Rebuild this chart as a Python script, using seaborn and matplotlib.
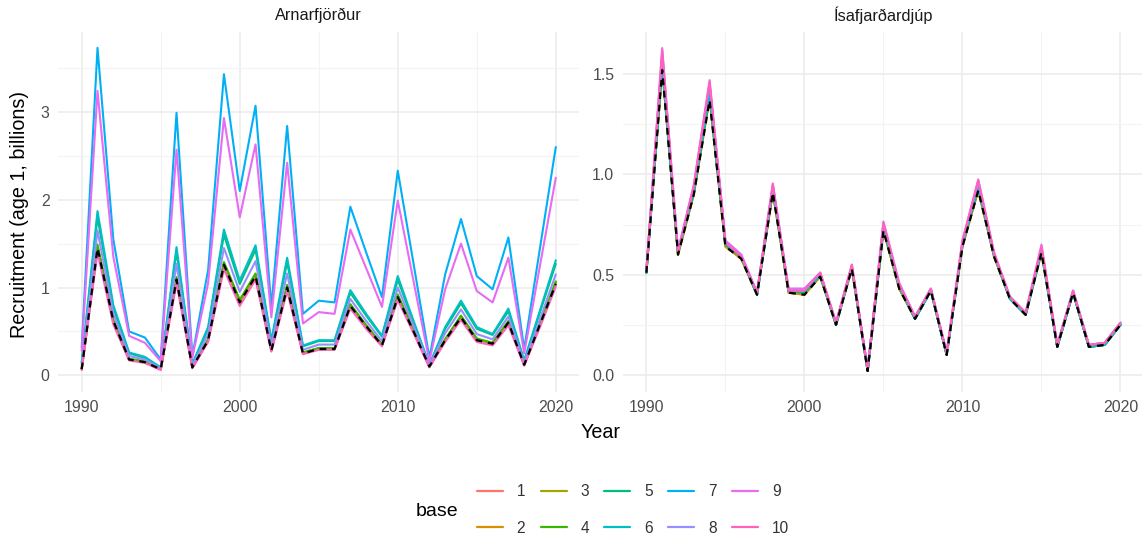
import matplotlib
matplotlib.use("Agg")
import matplotlib.pyplot as plt
import pandas as pd
import seaborn as sns
from matplotlib.lines import Line2D
from matplotlib.ticker import MultipleLocator

# ---- data -----------------------------------------------------------------
years = list(range(1990, 2021))
panel_names = ["Arnarfjörður", "Ísafjarðardjúp"]
base_labels = [str(i) for i in range(1, 11)]
base_colors = ["#F8766D", "#D89000", "#A3A500", "#39B600", "#00BF7D",
               "#00BFC4", "#00B0F6", "#9590FF", "#E76BF3", "#FF62BC"]

# Arnarfjörður recruitment (billions) per base run
arn_ref = [0.07, 1.45, 0.62, 0.18, 0.15, 0.07, 1.09, 0.09, 0.40, 1.26, 0.83,
           1.13, 0.28, 1.00, 0.25, 0.30, 0.30, 0.79, 0.56, 0.34, 0.89, 0.50,
           0.10, 0.40, 0.66, 0.40, 0.36, 0.60, 0.12, 0.58, 1.04]
arn_1 = [0.07, 1.45, 0.62, 0.18, 0.15, 0.07, 1.09, 0.09, 0.40, 1.26, 0.83,
         1.13, 0.28, 1.00, 0.25, 0.30, 0.30, 0.79, 0.56, 0.34, 0.89, 0.50,
         0.10, 0.40, 0.66, 0.40, 0.36, 0.60, 0.12, 0.58, 1.04]
arn_2 = [0.07, 1.46, 0.62, 0.18, 0.15, 0.07, 1.10, 0.09, 0.40, 1.27, 0.84,
         1.14, 0.28, 1.01, 0.25, 0.30, 0.30, 0.80, 0.56, 0.34, 0.90, 0.50,
         0.10, 0.40, 0.67, 0.41, 0.36, 0.61, 0.12, 0.58, 1.05]
arn_3 = [0.07, 1.47, 0.62, 0.18, 0.15, 0.07, 1.11, 0.09, 0.41, 1.28, 0.85,
         1.15, 0.29, 1.02, 0.26, 0.31, 0.31, 0.80, 0.57, 0.35, 0.91, 0.51,
         0.10, 0.41, 0.67, 0.41, 0.37, 0.61, 0.12, 0.59, 1.06]
arn_4 = [0.08, 1.49, 0.63, 0.19, 0.16, 0.07, 1.12, 0.10, 0.41, 1.29, 0.86,
         1.16, 0.29, 1.03, 0.26, 0.31, 0.31, 0.81, 0.57, 0.35, 0.92, 0.52,
         0.10, 0.41, 0.68, 0.42, 0.37, 0.62, 0.12, 0.59, 1.07]
arn_5 = [0.14, 1.80, 0.77, 0.25, 0.20, 0.09, 1.41, 0.12, 0.53, 1.60, 1.04,
         1.43, 0.38, 1.29, 0.33, 0.39, 0.39, 0.94, 0.68, 0.44, 1.09, 0.60,
         0.12, 0.53, 0.82, 0.53, 0.46, 0.73, 0.16, 0.72, 1.27]
arn_6 = [0.15, 1.87, 0.80, 0.26, 0.21, 0.09, 1.46, 0.13, 0.55, 1.66, 1.08,
         1.48, 0.40, 1.34, 0.34, 0.40, 0.40, 0.97, 0.70, 0.45, 1.13, 0.62,
         0.12, 0.55, 0.85, 0.55, 0.47, 0.76, 0.17, 0.74, 1.31]
arn_7 = [0.32, 3.73, 1.55, 0.50, 0.43, 0.18, 2.99, 0.22, 1.20, 3.43, 2.10,
         3.07, 0.78, 2.84, 0.70, 0.85, 0.83, 1.92, 1.40, 0.89, 2.33, 1.27,
         0.20, 1.15, 1.78, 1.13, 0.98, 1.57, 0.30, 1.45, 2.60]
arn_8 = [0.11, 1.65, 0.70, 0.22, 0.18, 0.08, 1.27, 0.11, 0.47, 1.45, 0.95,
         1.30, 0.34, 1.16, 0.29, 0.35, 0.35, 0.87, 0.62, 0.39, 1.00, 0.56,
         0.11, 0.48, 0.75, 0.47, 0.41, 0.67, 0.14, 0.64, 1.15]
arn_9 = [0.28, 3.24, 1.35, 0.45, 0.37, 0.16, 2.57, 0.20, 1.05, 2.93, 1.80,
         2.63, 0.66, 2.42, 0.59, 0.72, 0.70, 1.66, 1.22, 0.78, 1.99, 1.07,
         0.16, 0.98, 1.50, 0.96, 0.83, 1.34, 0.25, 1.25, 2.25]
arn_10 = [0.06, 1.40, 0.58, 0.17, 0.14, 0.06, 1.05, 0.08, 0.38, 1.21, 0.79,
          1.09, 0.27, 0.96, 0.24, 0.29, 0.29, 0.76, 0.53, 0.33, 0.86, 0.48,
          0.09, 0.38, 0.63, 0.38, 0.34, 0.57, 0.11, 0.55, 1.01]

# Ísafjarðardjúp recruitment (billions) per base run
isa_ref = [0.51, 1.52, 0.60, 0.90, 1.37, 0.64, 0.58, 0.40, 0.91, 0.41, 0.40,
           0.49, 0.25, 0.53, 0.02, 0.72, 0.43, 0.28, 0.42, 0.10, 0.64, 0.92,
           0.59, 0.38, 0.30, 0.61, 0.14, 0.41, 0.14, 0.15, 0.25]
isa_1 = [0.51, 1.53, 0.60, 0.90, 1.38, 0.64, 0.58, 0.40, 0.91, 0.41, 0.40,
         0.49, 0.25, 0.53, 0.02, 0.72, 0.43, 0.28, 0.42, 0.10, 0.64, 0.92,
         0.59, 0.38, 0.30, 0.61, 0.14, 0.41, 0.14, 0.15, 0.25]
isa_2 = [0.51, 1.53, 0.60, 0.90, 1.38, 0.64, 0.58, 0.40, 0.91, 0.41, 0.40,
         0.49, 0.25, 0.53, 0.02, 0.72, 0.43, 0.28, 0.42, 0.10, 0.64, 0.92,
         0.59, 0.38, 0.30, 0.61, 0.14, 0.41, 0.14, 0.15, 0.25]
isa_3 = [0.51, 1.54, 0.60, 0.91, 1.39, 0.65, 0.58, 0.40, 0.92, 0.41, 0.41,
         0.49, 0.25, 0.53, 0.02, 0.73, 0.43, 0.28, 0.42, 0.10, 0.65, 0.93,
         0.59, 0.38, 0.30, 0.61, 0.14, 0.41, 0.14, 0.15, 0.25]
isa_4 = [0.51, 1.54, 0.61, 0.91, 1.39, 0.65, 0.59, 0.40, 0.92, 0.42, 0.41,
         0.50, 0.25, 0.54, 0.02, 0.73, 0.44, 0.28, 0.42, 0.10, 0.65, 0.93,
         0.60, 0.38, 0.30, 0.62, 0.14, 0.41, 0.14, 0.15, 0.25]
isa_5 = [0.51, 1.55, 0.61, 0.91, 1.40, 0.65, 0.59, 0.40, 0.92, 0.42, 0.41,
         0.50, 0.25, 0.54, 0.02, 0.73, 0.44, 0.28, 0.42, 0.10, 0.65, 0.94,
         0.60, 0.38, 0.30, 0.62, 0.14, 0.41, 0.14, 0.15, 0.25]
isa_6 = [0.51, 1.56, 0.61, 0.92, 1.41, 0.66, 0.59, 0.40, 0.93, 0.42, 0.42,
         0.50, 0.25, 0.54, 0.02, 0.74, 0.44, 0.28, 0.42, 0.10, 0.65, 0.94,
         0.60, 0.38, 0.30, 0.62, 0.14, 0.41, 0.14, 0.15, 0.25]
isa_7 = [0.52, 1.59, 0.61, 0.93, 1.44, 0.66, 0.59, 0.41, 0.94, 0.42, 0.42,
         0.50, 0.26, 0.54, 0.03, 0.75, 0.45, 0.29, 0.43, 0.11, 0.66, 0.95,
         0.60, 0.39, 0.31, 0.63, 0.15, 0.42, 0.15, 0.16, 0.26]
isa_8 = [0.52, 1.60, 0.62, 0.94, 1.45, 0.67, 0.60, 0.41, 0.94, 0.43, 0.43,
         0.51, 0.26, 0.54, 0.03, 0.75, 0.45, 0.29, 0.43, 0.11, 0.66, 0.96,
         0.60, 0.39, 0.31, 0.63, 0.15, 0.42, 0.15, 0.16, 0.26]
isa_9 = [0.52, 1.63, 0.62, 0.95, 1.47, 0.67, 0.60, 0.41, 0.955, 0.43, 0.43,
         0.51, 0.26, 0.55, 0.03, 0.765, 0.46, 0.29, 0.43, 0.11, 0.67, 0.975,
         0.61, 0.39, 0.31, 0.65, 0.15, 0.42, 0.15, 0.16, 0.26]
isa_10 = [0.52, 1.62, 0.61, 0.94, 1.46, 0.66, 0.59, 0.41, 0.95, 0.42, 0.42,
          0.51, 0.26, 0.55, 0.03, 0.76, 0.45, 0.29, 0.43, 0.11, 0.67, 0.97,
          0.61, 0.39, 0.31, 0.64, 0.15, 0.42, 0.15, 0.16, 0.26]

arn_runs = [arn_1, arn_2, arn_3, arn_4, arn_5, arn_6, arn_7, arn_8, arn_9, arn_10]
isa_runs = [isa_1, isa_2, isa_3, isa_4, isa_5, isa_6, isa_7, isa_8, isa_9, isa_10]


def long_frame(runs):
    rows = []
    for lab, vals in zip(base_labels, runs):
        for yr, v in zip(years, vals):
            rows.append({"year": yr, "recruitment": v, "base": lab})
    return pd.DataFrame(rows)


frames = [long_frame(arn_runs), long_frame(isa_runs)]
refs = [pd.DataFrame({"year": years, "recruitment": arn_ref}),
        pd.DataFrame({"year": years, "recruitment": isa_ref})]

# ---- styling --------------------------------------------------------------
sns.set_theme(style="white")
plt.rcParams["font.family"] = ["Liberation Sans", "DejaVu Sans"]

W, H = 1142, 540
fig = plt.figure(figsize=(W / 100, H / 100), dpi=100)
palette = dict(zip(base_labels, base_colors))

panel_left = [58, 622.7]
panel_w = 521.5
panel_top, panel_bot = 32, 392
ylims = [(-0.19, 3.91), (-0.085, 1.71)]
major = [1.0, 0.5]

axes = []
for i in range(2):
    ax = fig.add_axes([panel_left[i] / W, 1 - panel_bot / H,
                       panel_w / W, (panel_bot - panel_top) / H])
    axes.append(ax)
    sns.lineplot(data=frames[i], x="year", y="recruitment", hue="base",
                 hue_order=base_labels, palette=palette, estimator=None,
                 linewidth=1.5, legend=False, ax=ax)
    sns.lineplot(data=refs[i], x="year", y="recruitment", color="black",
                 estimator=None, linewidth=1.6, linestyle=(0, (3, 2.6)),
                 legend=False, ax=ax)
    ax.set_xlim(1988.5, 2021.5)
    ax.set_ylim(*ylims[i])
    ax.xaxis.set_major_locator(MultipleLocator(10))
    ax.xaxis.set_minor_locator(MultipleLocator(5))
    ax.yaxis.set_major_locator(MultipleLocator(major[i]))
    ax.yaxis.set_minor_locator(MultipleLocator(major[i] / 2))
    if i == 1:
        ax.yaxis.set_major_formatter(plt.FormatStrFormatter("%.1f"))
    ax.grid(True, which="major", color="#EBEBEB", linewidth=1.1)
    ax.grid(True, which="minor", color="#F3F3F3", linewidth=0.8)
    ax.set_axisbelow(True)
    for s in ax.spines.values():
        s.set_visible(False)
    ax.tick_params(axis="both", which="both", length=0, labelsize=11.4,
                   labelcolor="#4D4D4D", pad=6)
    ax.set_xlabel("")
    ax.set_ylabel("")
    ax.set_facecolor("white")
    fig.text((panel_left[i] + panel_w / 2) / W, 1 - 15 / H, panel_names[i],
             ha="center", va="center", fontsize=11.8, color="#1A1A1A")

fig.text(20 / W, 1 - 215 / H, "Recruitment (age 1, billions)", rotation=90,
         ha="center", va="center", fontsize=14.2, color="black")
fig.text(601 / W, 1 - 432 / H, "Year", ha="center", va="center",
         fontsize=14.2, color="black")

# legend
handles = [Line2D([0], [0], color=c, linewidth=1.6) for c in base_colors]
fig.text(437 / W, 1 - 512 / H, "base", ha="center", va="center",
         fontsize=14, color="black")
fig.legend(handles, base_labels, loc="center", ncol=5,
           bbox_to_anchor=(633 / W, 1 - 510 / H), frameon=False,
           fontsize=11.2, handlelength=1.67, handletextpad=0.9,
           columnspacing=0.98, labelspacing=1.4, labelcolor="#333333")

fig.savefig("out.png", dpi=100, facecolor="white")
